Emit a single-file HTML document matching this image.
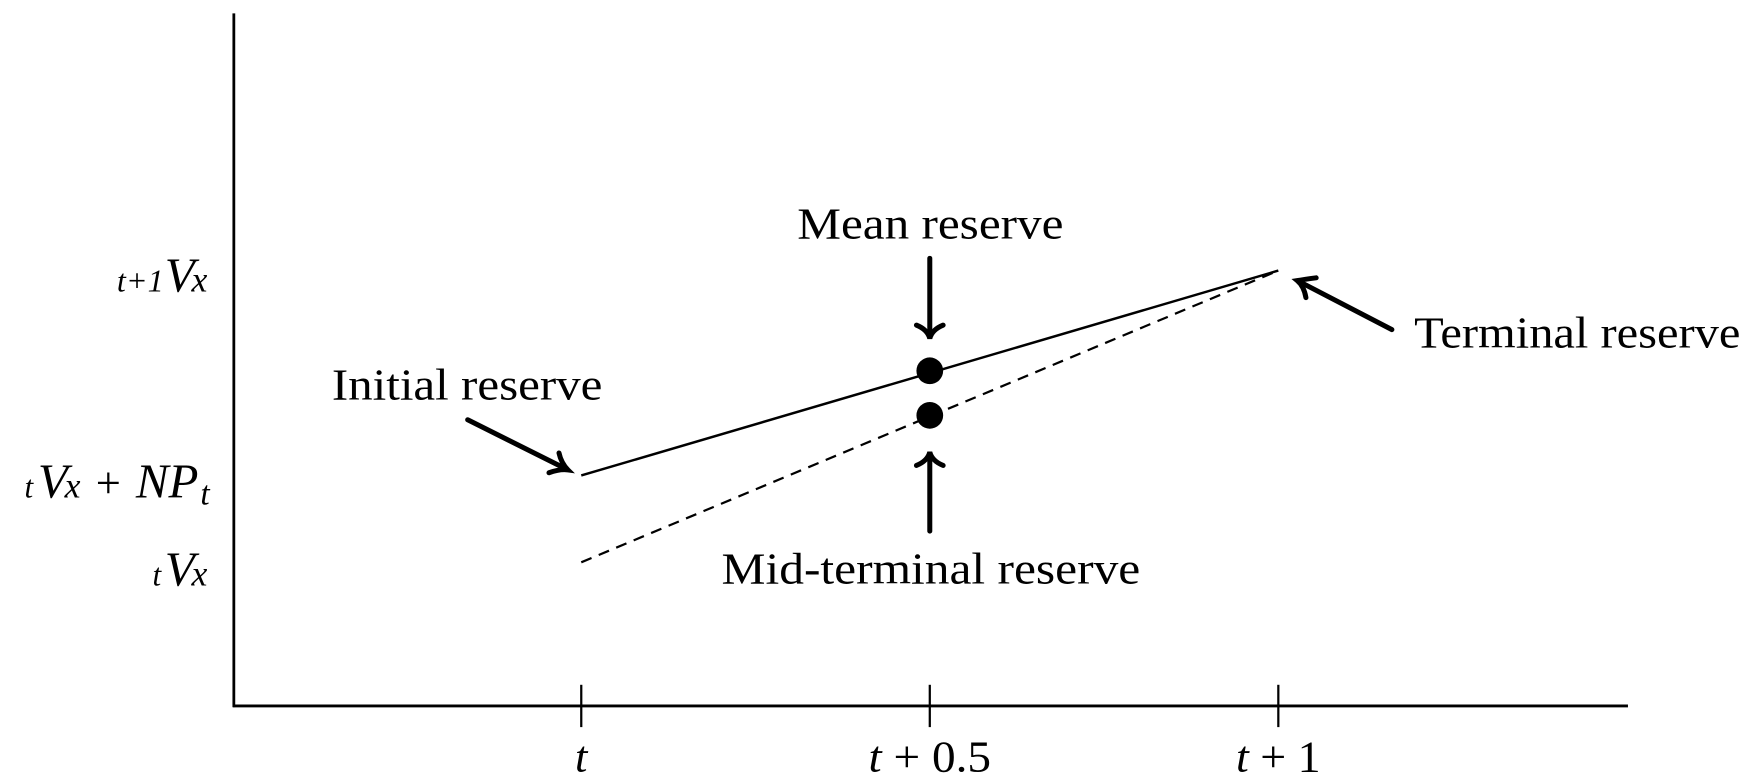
<!DOCTYPE html>
<html><head><meta charset="utf-8"><style>html,body{margin:0;padding:0;background:#fff}svg{display:block}</style></head>
<body>
<svg width="1746" height="781" viewBox="0 0 1568 701.4" preserveAspectRatio="none" xmlns="http://www.w3.org/2000/svg" font-family="Liberation Serif, serif">
<g stroke="#000" fill="none">
<line x1="210" y1="12" x2="210" y2="635" stroke-width="2.5"/>
<line x1="209" y1="634" x2="1462" y2="634" stroke-width="2.5"/>
<line x1="522" y1="615" x2="522" y2="653" stroke-width="2"/>
<line x1="835" y1="615" x2="835" y2="653" stroke-width="2"/>
<line x1="1148" y1="615" x2="1148" y2="653" stroke-width="2"/>
<line x1="522" y1="427" x2="1148" y2="243" stroke-width="2.2"/>
<line x1="522" y1="505" x2="1148" y2="243" stroke-width="2" stroke-dasharray="10,7"/>
<g stroke-width="4.5" stroke-linecap="round">
<line x1="835" y1="232" x2="835" y2="302"/>
<path d="M823,292 Q833,296 835,304 Q837,296 847,292"/>
<line x1="835" y1="477" x2="835" y2="408"/>
<path d="M823,418 Q833,414 835,406 Q837,414 847,418"/>
<line x1="420" y1="377" x2="508" y2="421"/>
<path d="M493,424.6 Q503,421 510,422 Q504,416 502,406.8"/>
<line x1="1250" y1="296" x2="1167" y2="253"/>
<path d="M1182,249.5 Q1171,251 1165,252 Q1171,257 1172.8,267.3"/>
</g>
</g>
<circle cx="835" cy="333" r="12"/>
<circle cx="835" cy="373" r="12"/>
<g font-size="40" fill="#000">
<text x="716" y="214" textLength="239" lengthAdjust="spacingAndGlyphs">Mean reserve</text>
<text x="648" y="524" textLength="376" lengthAdjust="spacingAndGlyphs">Mid-terminal reserve</text>
<text x="298" y="359" textLength="243" lengthAdjust="spacingAndGlyphs">Initial reserve</text>
<text x="1270" y="312" textLength="293" lengthAdjust="spacingAndGlyphs">Terminal reserve</text>
</g>
<g fill="#000" font-style="italic">
<text x="105" y="262" font-size="28" textLength="42" lengthAdjust="spacingAndGlyphs">t+1</text>
<text x="148" y="262" font-size="44">V</text><text x="172" y="262" font-size="32">x</text>
<text x="22" y="447" font-size="28">t</text>
<text x="34" y="447" font-size="44">V</text><text x="58" y="447" font-size="32">x</text>
<text x="86" y="447" font-size="40" font-style="normal">+</text>
<text x="122" y="447" font-size="44">NP</text><text x="180" y="453" font-size="30">t</text>
<text x="137" y="526" font-size="28">t</text>
<text x="148" y="526" font-size="44">V</text><text x="172" y="526" font-size="32">x</text>
<text x="522" y="693" font-size="40" text-anchor="middle">t</text>
<text x="835" y="693" font-size="40" text-anchor="middle" textLength="110" lengthAdjust="spacingAndGlyphs">t <tspan font-style="normal">+ 0.5</tspan></text>
<text x="1148" y="693" font-size="40" text-anchor="middle" textLength="76" lengthAdjust="spacingAndGlyphs">t <tspan font-style="normal">+ 1</tspan></text>
</g>
</svg>
</body></html>
